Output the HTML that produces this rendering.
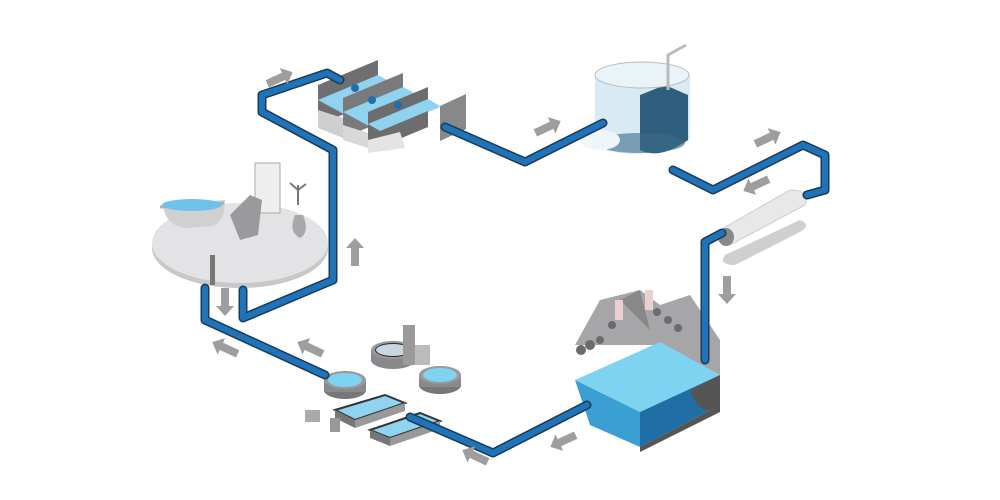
<!DOCTYPE html>
<html><head><meta charset="utf-8"><style>
html,body{margin:0;padding:0;background:#fff;width:1000px;height:500px;overflow:hidden}
</style></head><body>
<svg width="1000" height="500" viewBox="0 0 1000 500" xmlns="http://www.w3.org/2000/svg">
<defs>
<g id="arr"><path d="M-14,-4 L4,-4 L4,-9 L14,0 L4,9 L4,4 L-14,4 Z" fill="#9e9e9e"/></g>
</defs>
<!-- room platform -->
<ellipse cx="240" cy="248" rx="88" ry="40" fill="#c8c8ca"/>
<ellipse cx="240" cy="243" rx="88" ry="40" fill="#e3e3e5"/>
<path d="M163,205 Q165,225 185,228 L212,226 Q225,222 225,200 Z" fill="#d0d0d2"/>
<path d="M160,207 L224,203" stroke="#b0b0b2" stroke-width="3"/>
<ellipse cx="192" cy="205" rx="30" ry="6" fill="#6ec4e8"/>
<rect x="255" y="163" width="25" height="50" fill="#eeeeee" stroke="#aaa"/>
<path d="M230,215 L250,195 L262,200 L258,235 L240,240 Z" fill="#9a9a9c"/>
<path d="M295,215 Q288,232 300,238 Q310,232 303,215 Z" fill="#a8a8aa"/>
<path d="M298,205 L298,185 M298,190 L290,183 M298,190 L306,184" stroke="#777" stroke-width="2"/>
<path d="M210,255 L210,285 L215,285 L215,255 Z" fill="#777"/>
<!-- filter boxes -->
<g>
<path d="M318,85 L378,60 L378,100 L318,125 Z" fill="#6f6f71"/>
<path d="M318,100 L378,75 L415,95 L355,120 Z" fill="#8fd3f0"/>
<path d="M318,110 L343,118 L343,138 L318,128 Z" fill="#cfcfcf"/>
<path d="M343,98 L403,73 L403,113 L343,138 Z" fill="#7a7a7c"/>
<path d="M343,112 L403,87 L440,107 L380,132 Z" fill="#8fd3f0"/>
<path d="M343,125 L368,133 L368,148 L343,140 Z" fill="#d8d8d8"/>
<path d="M368,112 L428,87 L428,127 L368,152 Z" fill="#6d6d6f"/>
<path d="M368,124 L428,99 L440,106 L380,131 Z" fill="#8fd3f0"/>
<path d="M368,140 L400,132 L405,148 L368,153 Z" fill="#e4e4e4"/>
<path d="M440,106 L466,94 L466,129 L440,141 Z" fill="#888"/>
<circle cx="355" cy="88" r="4" fill="#1f6fae"/><circle cx="372" cy="100" r="4" fill="#1f6fae"/><circle cx="398" cy="105" r="4" fill="#1f6fae"/>
</g>
<!-- tank -->
<path d="M595,75 L595,145 Q635,165 690,140 L690,75 Z" fill="#d8eaf4"/>
<path d="M640,95 L665,85 L688,95 L688,140 Q660,160 640,150 Z" fill="#2f5f7e"/>
<ellipse cx="642" cy="75" rx="47" ry="13" fill="#e9f3f8" stroke="#bbb"/>
<ellipse cx="640" cy="143" rx="45" ry="10" fill="#3a6a88" opacity=".6"/>
<ellipse cx="600" cy="140" rx="20" ry="10" fill="#eef6fa"/>
<path d="M668,90 L668,55 L686,45" stroke="#bbb" stroke-width="3" fill="none"/>
<!-- membrane cylinder -->
<path d="M720,230 L790,190 Q810,190 805,205 L730,245 Z" fill="#e8e8e8" stroke="#ccc"/>
<ellipse cx="726" cy="237" rx="8" ry="9" fill="#888"/>
<path d="M725,255 L800,220 Q812,225 800,232 L735,265 Q718,265 725,255 Z" fill="#cfcfcf"/>
<!-- lake -->
<path d="M575,345 L600,300 L640,290 L660,305 L690,295 L720,340 L720,375 L660,345 Z" fill="#a6a6a8"/>
<path d="M620,300 L640,290 L650,330 Z" fill="#888"/>
<rect x="615" y="300" width="8" height="20" fill="#eccfcf"/><rect x="645" y="290" width="8" height="20" fill="#eccfcf"/>
<g fill="#6b6b6d"><circle cx="581" cy="350" r="5"/><circle cx="590" cy="345" r="5"/><circle cx="600" cy="340" r="4"/><circle cx="612" cy="325" r="4"/><circle cx="657" cy="312" r="4"/><circle cx="668" cy="320" r="4"/><circle cx="678" cy="328" r="4"/><circle cx="662" cy="350" r="4"/></g>
<path d="M575,380 L660,342 L720,375 L640,412 Z" fill="#7ed3f0"/>
<path d="M575,380 L640,412 L640,447 L590,425 Z" fill="#3aa0d4"/>
<path d="M640,412 L720,375 L720,405 L640,447 Z" fill="#1f6fa6"/>
<path d="M690,390 Q700,420 720,405 L720,375 Z" fill="#555"/>
<path d="M640,447 L720,405 L720,412 L640,452 Z" fill="#555"/>
<!-- treatment plant -->
<ellipse cx="393" cy="360" rx="22" ry="9" fill="#888"/><rect x="371" y="350" width="44" height="12" fill="#8a8a8c"/><ellipse cx="393" cy="350" rx="22" ry="9" fill="#999"/><ellipse cx="393" cy="350" rx="18" ry="7" fill="#1e2e3a"/>
<ellipse cx="393" cy="350" rx="17" ry="6" fill="#c7d6df"/>
<ellipse cx="345" cy="390" rx="21" ry="9" fill="#777"/><rect x="324" y="380" width="42" height="12" fill="#8a8a8c"/><ellipse cx="345" cy="380" rx="21" ry="9" fill="#999"/><ellipse cx="345" cy="380" rx="17" ry="7" fill="#7ed3f0"/>
<ellipse cx="440" cy="385" rx="21" ry="9" fill="#777"/><rect x="419" y="375" width="42" height="12" fill="#8a8a8c"/><ellipse cx="440" cy="375" rx="21" ry="9" fill="#999"/><ellipse cx="440" cy="375" rx="17" ry="7" fill="#7ed3f0"/>
<rect x="403" y="325" width="12" height="40" fill="#9a9a9a"/><rect x="415" y="345" width="15" height="20" fill="#bbb"/>
<path d="M335,410 L385,395 L405,403 L355,420 Z" fill="#8fd3f0" stroke="#333" stroke-width="2"/>
<path d="M335,410 L355,420 L355,428 L335,418 Z" fill="#777"/><path d="M355,420 L405,403 L405,411 L355,428 Z" fill="#999"/>
<path d="M370,430 L420,413 L440,421 L390,438 Z" fill="#8fd3f0" stroke="#333" stroke-width="2"/>
<path d="M370,430 L390,438 L390,446 L370,438 Z" fill="#777"/><path d="M390,438 L440,421 L440,429 L390,446 Z" fill="#999"/>
<rect x="305" y="410" width="15" height="12" fill="#aaa"/><rect x="330" y="418" width="10" height="14" fill="#999"/>
<!-- pipes -->
<g fill="none" stroke-linejoin="round" stroke-linecap="round">
<g stroke="#1c3b55" stroke-width="9">
<path d="M243,290 L243,318 L333,280 L333,150 L262,112 L262,95 L327,73 L340,80"/>
<path d="M205,288 L205,320 L325,375"/>
<path d="M445,127 L525,162 L603,123"/>
<path d="M673,170 L713,190 L803,145 L825,155 L825,190 L807,195"/>
<path d="M722,233 L705,242 L705,360"/>
<path d="M587,405 L493,453 L410,417"/>
</g>
<g stroke="#1f73b8" stroke-width="6">
<path d="M243,290 L243,318 L333,280 L333,150 L262,112 L262,95 L327,73 L340,80"/>
<path d="M205,288 L205,320 L325,375"/>
<path d="M445,127 L525,162 L603,123"/>
<path d="M673,170 L713,190 L803,145 L825,155 L825,190 L807,195"/>
<path d="M722,233 L705,242 L705,360"/>
<path d="M587,405 L493,453 L410,417"/>
</g>
</g>
<!-- arrows -->
<use href="#arr" transform="translate(280,78) rotate(-25)"/>
<use href="#arr" transform="translate(355,252) rotate(-90)"/>
<use href="#arr" transform="translate(225,302) rotate(90)"/>
<use href="#arr" transform="translate(225,348) rotate(205)"/>
<use href="#arr" transform="translate(310,348) rotate(205)"/>
<use href="#arr" transform="translate(475,456) rotate(205)"/>
<use href="#arr" transform="translate(563,441) rotate(155)"/>
<use href="#arr" transform="translate(548,127) rotate(-25)"/>
<use href="#arr" transform="translate(768,138) rotate(-25)"/>
<use href="#arr" transform="translate(756,185) rotate(155)"/>
<use href="#arr" transform="translate(727,290) rotate(90)"/>
</svg>
</body></html>
